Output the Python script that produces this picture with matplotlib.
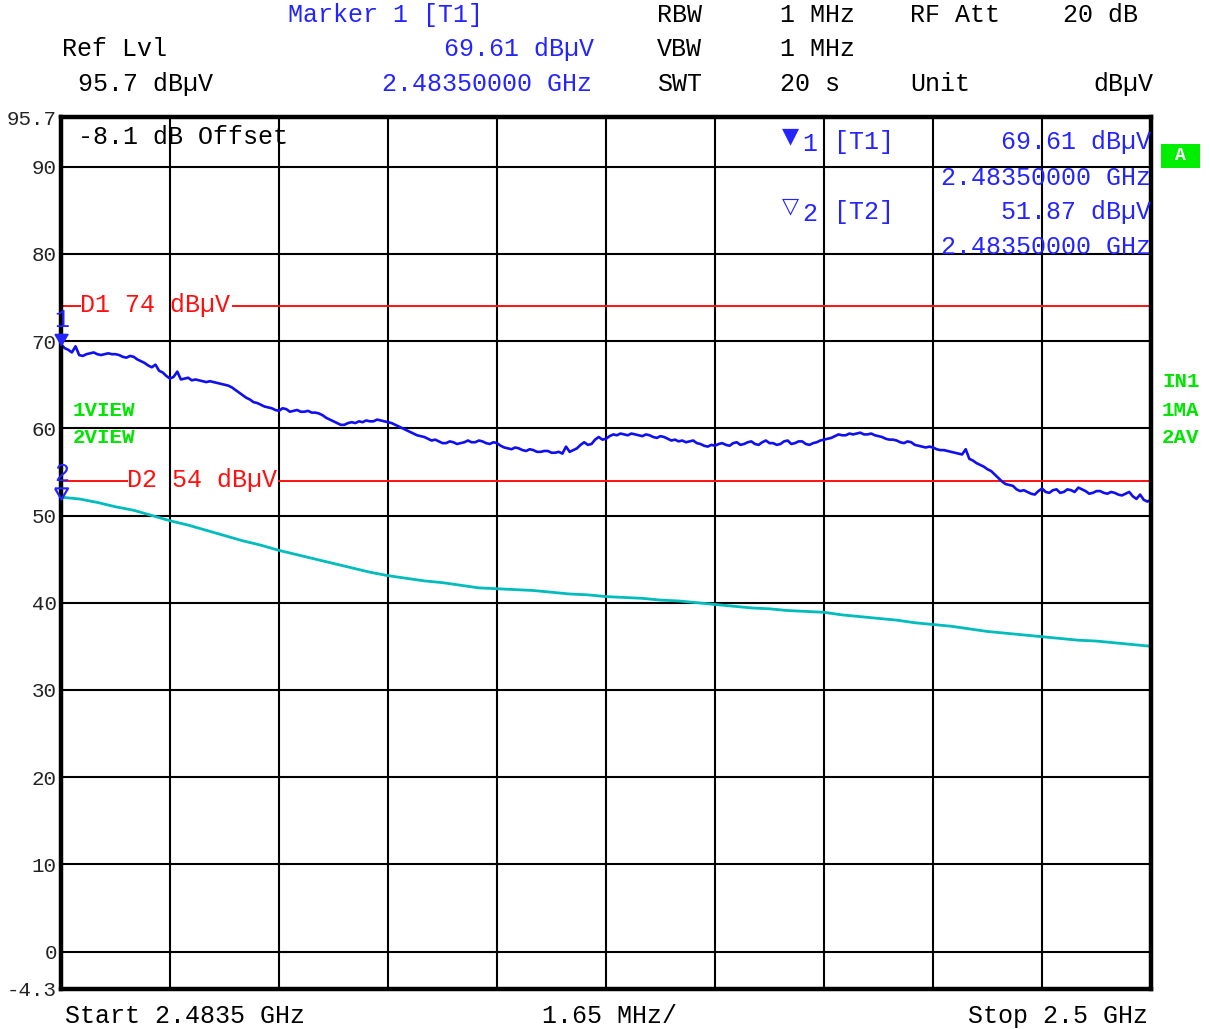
import numpy as np
import matplotlib
matplotlib.use("Agg")
import matplotlib.pyplot as plt
from matplotlib.patches import Rectangle

# ---------------- data ----------------
start_ghz = 2.4835
stop_ghz = 2.5
ref_lvl = 95.7
bottom_lvl = -4.3
y_ticks = [0, 10, 20, 30, 40, 50, 60, 70, 80, 90]
y_tick_labels = ["0", "10", "20", "30", "40", "50", "60", "70", "80", "90"]

# Trace 1 (max hold, peak) in dBuV
trace1_max = [
    69.6, 69.2, 69.0, 68.7, 69.4, 68.4, 68.3, 68.5, 68.6, 68.7,
    68.5, 68.4, 68.5, 68.6, 68.5, 68.5, 68.4, 68.2, 68.1, 68.3,
    68.2, 67.9, 67.7, 67.5, 67.2, 67.0, 67.3, 66.6, 66.4, 66.0,
    65.7, 65.9, 66.5, 65.6, 65.7, 65.8, 65.5, 65.6, 65.5, 65.4,
    65.3, 65.4, 65.3, 65.2, 65.1, 65.0, 64.9, 64.7, 64.4, 64.1,
    63.8, 63.5, 63.3, 63.0, 62.9, 62.7, 62.5, 62.4, 62.3, 62.1,
    62.0, 62.3, 62.2, 61.9, 62.0, 62.1, 61.9, 61.9, 62.0, 61.8,
    61.8, 61.7, 61.5, 61.2, 61.0, 60.8, 60.6, 60.4, 60.4, 60.6,
    60.7, 60.6, 60.8, 60.7, 60.9, 60.8, 60.8, 61.0, 60.9, 60.8,
    60.7, 60.6, 60.4, 60.2, 60.0, 59.8, 59.6, 59.4, 59.2, 59.1,
    59.0, 58.8, 58.6, 58.7, 58.5, 58.3, 58.3, 58.5, 58.4, 58.2,
    58.3, 58.4, 58.6, 58.4, 58.4, 58.6, 58.5, 58.3, 58.2, 58.4,
    58.3, 58.0, 57.8, 57.7, 57.6, 57.8, 57.7, 57.5, 57.4, 57.6,
    57.5, 57.3, 57.3, 57.4, 57.4, 57.2, 57.2, 57.3, 57.1, 57.9,
    57.3, 57.5, 57.7, 58.1, 58.4, 58.1, 58.2, 58.7, 59.0, 58.7,
    58.8, 59.1, 59.3, 59.2, 59.4, 59.3, 59.2, 59.4, 59.3, 59.2,
    59.1, 59.3, 59.2, 59.0, 58.9, 59.1, 59.0, 58.8, 58.6, 58.7,
    58.5, 58.6, 58.4, 58.5, 58.6, 58.3, 58.2, 58.0, 57.9, 58.1,
    58.0, 58.2, 58.3, 58.1, 58.0, 58.3, 58.4, 58.1, 58.2, 58.4,
    58.5, 58.2, 58.1, 58.4, 58.6, 58.3, 58.3, 58.1, 58.2, 58.5,
    58.6, 58.2, 58.3, 58.5, 58.5, 58.2, 58.1, 58.3, 58.4, 58.6,
    58.7, 58.8, 58.9, 59.1, 59.3, 59.2, 59.2, 59.4, 59.3, 59.4,
    59.5, 59.3, 59.3, 59.4, 59.2, 59.1, 59.0, 58.8, 58.7, 58.7,
    58.6, 58.4, 58.3, 58.5, 58.4, 58.1, 58.0, 57.9, 57.8, 57.9,
    57.8, 57.6, 57.5, 57.5, 57.4, 57.3, 57.2, 57.1, 57.0, 57.6,
    56.5, 56.3, 56.0, 55.8, 55.6, 55.3, 55.1, 54.7, 54.3, 53.9,
    53.6, 53.5, 53.4, 53.0, 52.8, 52.9, 52.7, 52.5, 52.4, 52.8,
    53.1, 52.7, 52.6, 52.9, 53.0, 52.6, 52.7, 53.0, 52.9, 52.7,
    53.2, 53.0, 52.8, 52.5, 52.6, 52.8, 52.8, 52.6, 52.5, 52.7,
    52.6, 52.4, 52.3, 52.5, 52.7, 52.2, 51.9, 52.4, 51.8, 51.6,
    51.8,
]

# Trace 2 (average) in dBuV
trace2_avg = [
    52.1, 51.9, 51.5, 51.0, 50.6, 50.0, 49.4, 48.9, 48.3, 47.7,
    47.1, 46.6, 46.0, 45.5, 45.0, 44.5, 44.0, 43.5, 43.1, 42.8,
    42.5, 42.3, 42.0, 41.7, 41.6, 41.5, 41.4, 41.2, 41.0, 40.9,
    40.7, 40.6, 40.5, 40.3, 40.2, 40.0, 39.8, 39.6, 39.4, 39.3,
    39.1, 39.0, 38.9, 38.6, 38.4, 38.2, 38.0, 37.7, 37.5, 37.3,
    37.0, 36.7, 36.5, 36.3, 36.1, 35.9, 35.7, 35.6, 35.4, 35.2,
    35.0,
]

marker1_lvl = 69.61
marker2_lvl = 51.87
marker_freq = 2.4835
limit_d1 = 74
limit_d2 = 54

freq1 = np.linspace(start_ghz, stop_ghz, len(trace1_max))
freq2 = np.linspace(start_ghz, stop_ghz, len(trace2_avg))

# ---------------- styling ----------------
W, H = 1210, 1029
MONO = ["Liberation Mono", "DejaVu Sans Mono"]
BLUE = "#2424ff"
TRACE_BLUE = "#1010ee"
CYAN = "#00bcbc"
RED = "#ff1010"
GREEN = "#00e600"

plt.rcParams["font.family"] = MONO

fig = plt.figure(figsize=(W / 100, H / 100), dpi=100)
fig.patch.set_facecolor("white")

def fx(px):
    return px / W

def fy(py):
    return 1 - py / H

ax_l, ax_r, ax_t, ax_b = 61, 1151, 117, 989
ax = fig.add_axes([fx(ax_l), fy(ax_b), (ax_r - ax_l) / W, (ax_b - ax_t) / H])
ax.set_xlim(start_ghz, stop_ghz)
ax.set_ylim(bottom_lvl, ref_lvl)

# grid
xgrid = np.linspace(start_ghz, stop_ghz, 11)
ax.set_xticks(xgrid)
ax.set_xticklabels([])
ax.set_yticks([bottom_lvl] + y_ticks + [ref_lvl])
ax.set_yticklabels(["-4.3"] + y_tick_labels + ["95.7"], fontsize=15, color="#222222")
ax.tick_params(axis="both", length=0, pad=3)
for xv in xgrid[1:-1]:
    ax.axvline(xv, color="black", lw=1.5, zorder=1)
for yv in y_ticks:
    ax.axhline(yv, color="black", lw=1.5, zorder=1)
for s in ax.spines.values():
    s.set_linewidth(3.2)
    s.set_color("black")
    s.set_zorder(5)

# limit lines
ax.axhline(limit_d1, xmin=0, xmax=0.0174, color=RED, lw=1.4, zorder=2)
ax.axhline(limit_d1, xmin=0.158, xmax=1, color=RED, lw=1.4, zorder=2)
ax.axhline(limit_d2, xmin=0, xmax=0.0606, color=RED, lw=1.4, zorder=2)
ax.axhline(limit_d2, xmin=0.20, xmax=1, color=RED, lw=1.4, zorder=2)

# traces
ax.plot(freq2, trace2_avg, color=CYAN, lw=2.0, zorder=3)
ax.plot(freq1, trace1_max, color=TRACE_BLUE, lw=1.9, zorder=4)

# markers (tip of triangle at the point)
tri = [(-1, 1.7), (1, 1.7), (0, 0), (-1, 1.7)]
ax.plot([marker_freq], [marker1_lvl], marker=tri, ms=16, color=BLUE,
        mfc=BLUE, mec=BLUE, clip_on=False, zorder=6)
ax.plot([marker_freq], [marker2_lvl], marker=tri, ms=16, color=BLUE,
        mfc="none", mec=BLUE, mew=1.6, clip_on=False, zorder=6)

def t(px, py, s, ha="left", color="black", size=18, weight="normal", family=None):
    fig.text(fx(px), fy(py), s, ha=ha, va="center", color=color, fontsize=size,
             fontweight=weight, family=family if family else MONO)

# header
t(288, 15, "Marker 1 [T1]", color=BLUE)
t(62, 49, "Ref Lvl")
t(594, 49, "69.61 dBµV", ha="right", color=BLUE)
t(78, 84, "95.7 dBµV")
t(592, 84, "2.48350000 GHz", ha="right", color=BLUE)
t(657, 15, "RBW")
t(780, 15, "1 MHz")
t(910, 15, "RF Att")
t(1063, 15, "20 dB")
t(657, 49, "VBW")
t(780, 49, "1 MHz")
t(657, 84, "SWT")
t(780, 84, "20 s")
t(910, 84, "Unit")
t(1153, 84, "dBµV", ha="right")

# inside plot
t(78, 137, "-8.1 dB Offset")
t(80, 305, "D1 74 dBµV", color=RED)
t(127, 480, "D2 54 dBµV", color=RED)
t(62, 320, "1", ha="center", color=BLUE)
t(62, 474, "2", ha="center", color=BLUE)
t(73, 410, "1VIEW", color=GREEN, size=15, weight="bold")
t(73, 438, "2VIEW", color=GREEN, size=15, weight="bold")

# marker table
t(790, 136, "▼", ha="center", color=BLUE, size=16, family=["DejaVu Sans"])
t(802, 144, "1", color=BLUE)
t(834, 142, "[T1]", color=BLUE)
t(1151, 142, "69.61 dBµV", ha="right", color=BLUE)
t(1151, 178, "2.48350000 GHz", ha="right", color=BLUE)
t(790, 206, "▽", ha="center", color=BLUE, size=16, family=["DejaVu Sans"])
t(802, 214, "2", color=BLUE)
t(834, 212, "[T2]", color=BLUE)
t(1151, 212, "51.87 dBµV", ha="right", color=BLUE)
t(1151, 247, "2.48350000 GHz", ha="right", color=BLUE)

# right column
fig.patches.append(Rectangle((fx(1161), fy(168)), 39 / W, 24 / H, transform=fig.transFigure,
                             facecolor="#00ee00", edgecolor="none"))
t(1180.5, 155, "A", ha="center", color="white", size=13, weight="bold")
t(1162, 381, "IN1", color=GREEN, size=15, weight="bold")
t(1162, 410, "1MA", color=GREEN, size=15, weight="bold")
t(1162, 438, "2AV", color=GREEN, size=15, weight="bold")

# bottom
t(65, 1016, "Start 2.4835 GHz")
t(610, 1016, "1.65 MHz/", ha="center")
t(1148, 1016, "Stop 2.5 GHz", ha="right")

fig.savefig("out.png", dpi=100, facecolor="white")
